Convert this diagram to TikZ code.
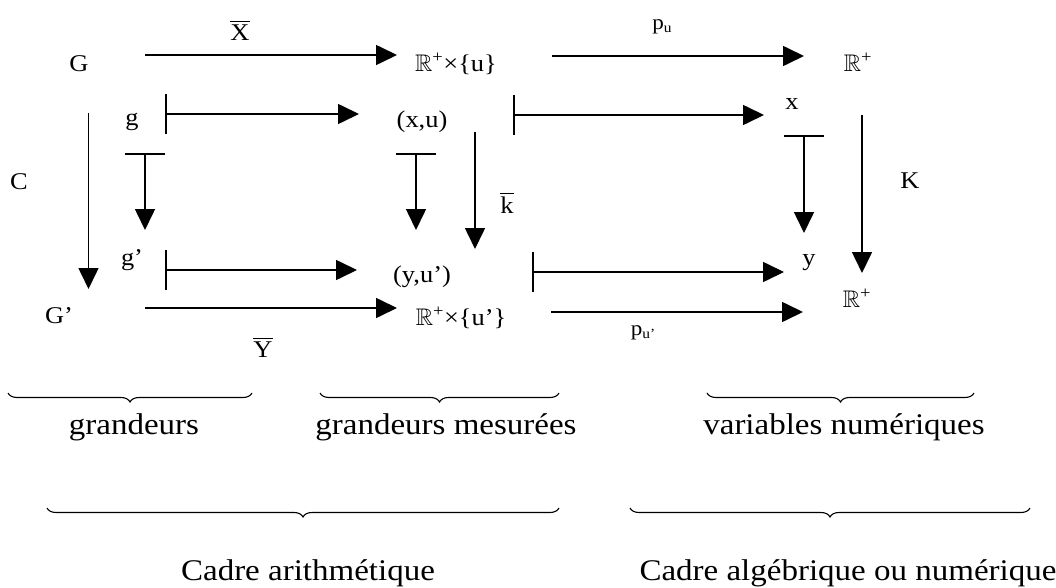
\documentclass[tikz,border=0pt]{standalone}
\usepackage{amssymb}
\usepackage{fontspec}
\setmainfont[FakeStretch=1.1]{Liberation Serif}
\usetikzlibrary{arrows.meta,decorations.pathreplacing}
\newcommand{\Rp}{$\mathbb{R}$\textsuperscript{+}}
\newcommand{\subu}[1]{{\fontsize{14}{14}\selectfont\raisebox{-3pt}{#1}}}
\begin{document}
\begin{tikzpicture}[x=1pt,y=-1pt,
  lbl/.style={inner sep=0pt, font=\fontsize{24}{28}\selectfont},
  big/.style={inner sep=0pt, font=\fontsize{30}{34}\selectfont},
  arr/.style={line width=1.6pt, -{Triangle[length=21pt,width=20pt]}},
  mapsto/.style={line width=1.6pt, {Bar[width=40pt]}-{Triangle[length=21pt,width=20pt]}},
  brc/.style={decorate, decoration={brace, mirror, amplitude=9pt}, line width=1.1pt}]
\useasboundingbox (0,0) rectangle (1056,588);
% nodes
\node[lbl] (G) at (79,64) {G};
\node[lbl] (Rxu) at (456,64) {\Rp×\{u\}};
\node[lbl] (R1) at (858,62) {\Rp};
\node[lbl] (g) at (132,122) {g};
\node[lbl] (xu) at (422,122) {(x,u)};
\node[lbl] (x) at (792,104) {x};
\node[lbl] (C) at (19,182) {C};
\node[lbl] (kb) at (507,203) {$\overline{\mbox{k}}$};
\node[lbl] (K) at (910,181) {K};
\node[lbl] (gp) at (132,260) {g'};
\node[lbl] (yu) at (422,277) {(y,u')};
\node[lbl] (y) at (809,263) {y};
\node[lbl] (Gp) at (59,316) {G'};
\node[lbl] (Ru) at (461,318) {\Rp×\{u'\}};
\node[lbl] (R2) at (857,298) {\Rp};
\node[lbl] (Xb) at (240,30) {$\overline{\mbox{X}}$};
\node[lbl] (Yb) at (263,347) {$\overline{\mbox{Y}}$};
\node[lbl,font=\fontsize{21}{24}\selectfont] (pu) at (662,27) {p\subu{u}};
\node[lbl,font=\fontsize{21}{24}\selectfont] (pup) at (643,333) {p\subu{u'}};
% arrow end points
\coordinate (a1s) at (145,55);  \coordinate (a1e) at (397,55);
\coordinate (a2s) at (552,56);  \coordinate (a2e) at (804,56);
\coordinate (a3s) at (165,114); \coordinate (a3e) at (359,114);
\coordinate (a4s) at (513,115); \coordinate (a4e) at (764,115);
\coordinate (a5s) at (88.5,113); \coordinate (a5e) at (88.5,289);
\coordinate (a6s) at (145,153); \coordinate (a6e) at (145,230);
\coordinate (a7s) at (416,153); \coordinate (a7e) at (416,230);
\coordinate (a8s) at (475,132); \coordinate (a8e) at (475,249);
\coordinate (a9s) at (804,135); \coordinate (a9e) at (804,233);
\coordinate (a10s) at (862,115); \coordinate (a10e) at (862,273);
\coordinate (a11s) at (165,270); \coordinate (a11e) at (357,270);
\coordinate (a12s) at (532,272); \coordinate (a12e) at (784,272);
\coordinate (a13s) at (145,308); \coordinate (a13e) at (397,308);
\coordinate (a14s) at (551,312); \coordinate (a14e) at (803,312);
\draw[arr] (a1s) -- (a1e);
\draw[arr] (a2s) -- (a2e);
\draw[mapsto] (a3s) -- (a3e);
\draw[mapsto] (a4s) -- (a4e);
\draw[arr] (a5s) -- (a5e);
\draw[mapsto] (a6s) -- (a6e);
\draw[mapsto] (a7s) -- (a7e);
\draw[arr] (a8s) -- (a8e);
\draw[mapsto] (a9s) -- (a9e);
\draw[arr] (a10s) -- (a10e);
\draw[mapsto] (a11s) -- (a11e);
\draw[mapsto] (a12s) -- (a12e);
\draw[arr] (a13s) -- (a13e);
\draw[arr] (a14s) -- (a14e);
% braces
\coordinate (b1s) at (8,393);   \coordinate (b1e) at (252,393);
\coordinate (b2s) at (320,393); \coordinate (b2e) at (559,393);
\coordinate (b3s) at (707,393); \coordinate (b3e) at (974,393);
\coordinate (b4s) at (47,508);  \coordinate (b4e) at (559,508);
\coordinate (b5s) at (630,508); \coordinate (b5e) at (1030,508);
\draw[brc] (b1s) -- (b1e);
\draw[brc] (b2s) -- (b2e);
\draw[brc] (b3s) -- (b3e);
\draw[brc] (b4s) -- (b4e);
\draw[brc] (b5s) -- (b5e);
\node[big] (t1) at (134,427) {grandeurs};
\node[big] (t2) at (446,427) {grandeurs mesurées};
\node[big] (t3) at (844,427) {variables numériques};
\node[big] (t4) at (308,573) {Cadre arithmétique};
\node[big] (t5) at (848,573) {Cadre algébrique ou numérique};
\end{tikzpicture}
\end{document}
